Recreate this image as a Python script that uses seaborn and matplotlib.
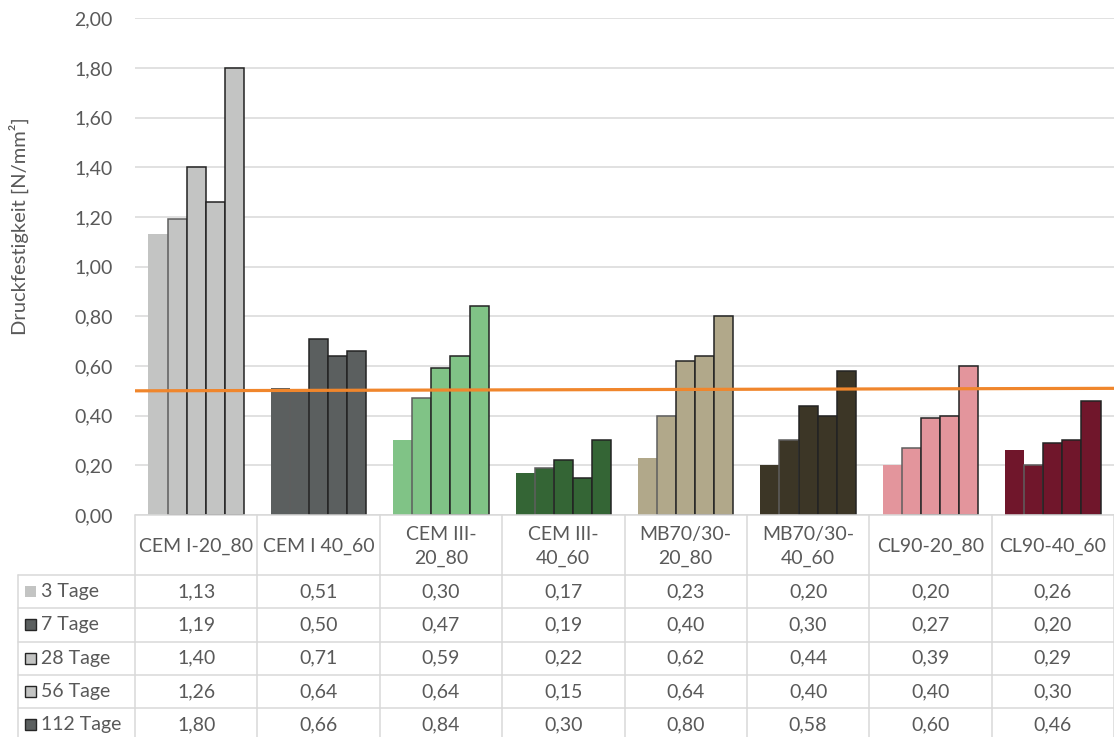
import matplotlib
matplotlib.use("Agg")
import matplotlib.pyplot as plt
import matplotlib.transforms as mtransforms
from matplotlib.patches import Rectangle
import pandas as pd
import seaborn as sns

# --- data -------------------------------------------------------------
categories = ["CEM I-20_80", "CEM I 40_60", "CEM III-20_80", "CEM III-40_60",
              "MB70/30-20_80", "MB70/30-40_60", "CL90-20_80", "CL90-40_60"]
header_labels = ["CEM I-20_80", "CEM I 40_60", "CEM III-\n20_80", "CEM III-\n40_60",
                 "MB70/30-\n20_80", "MB70/30-\n40_60", "CL90-20_80", "CL90-40_60"]
series = ["3 Tage", "7 Tage", "28 Tage", "56 Tage", "112 Tage"]

tage_3 = [1.13, 0.51, 0.30, 0.17, 0.23, 0.20, 0.20, 0.26]
tage_7 = [1.19, 0.50, 0.47, 0.19, 0.40, 0.30, 0.27, 0.20]
tage_28 = [1.40, 0.71, 0.59, 0.22, 0.62, 0.44, 0.39, 0.29]
tage_56 = [1.26, 0.64, 0.64, 0.15, 0.64, 0.40, 0.40, 0.30]
tage_112 = [1.80, 0.66, 0.84, 0.30, 0.80, 0.58, 0.60, 0.46]
values = [tage_3, tage_7, tage_28, tage_56, tage_112]

# required strength (left end, right end)
grenzwert = [0.50, 0.51]

y_ticks = [0.0, 0.2, 0.4, 0.6, 0.8, 1.0, 1.2, 1.4, 1.6, 1.8, 2.0]

# --- styling ----------------------------------------------------------
group_colors = ["#C3C4C3", "#5B5F5F", "#80C386", "#346535",
                "#B1A88A", "#3C3626", "#E3959C", "#70162B"]
series_edges = [None, "#5E5E5E", "#232323", "#232323", "#232323"]
legend_colors = ["#C3C4C3", "#5B5F5F", "#C3C4C3", "#C3C4C3", "#5B5F5F"]
text_color = "#595959"
grid_color = "#D9D9D9"
line_color = "#F0862C"

sns.set_style("white")
plt.rcParams["font.family"] = ["Lato", "DejaVu Sans"]
FS = 14

W, H = 1114, 737
fig = plt.figure(figsize=(W / 100, H / 100), dpi=100)

ax_left, ax_right, ax_top, ax_bottom = 135, 1114, 18.3, 515
ax = fig.add_axes([ax_left / W, 1 - ax_bottom / H,
                   (ax_right - ax_left) / W, (ax_bottom - ax_top) / H])

df = pd.DataFrame({
    "Mischung": [c for _ in series for c in categories],
    "Alter": [s for s in series for _ in categories],
    "Druckfestigkeit": [v for vals in values for v in vals],
})

sns.barplot(data=df, x="Mischung", y="Druckfestigkeit", hue="Alter",
            order=categories, hue_order=series, width=0.78, gap=0,
            saturation=1, errorbar=None, legend=False, ax=ax, zorder=2)

for s_idx, container in enumerate(ax.containers):
    for c_idx, bar in enumerate(container):
        bar.set_facecolor(group_colors[c_idx])
        edge = series_edges[s_idx]
        if edge is None:
            bar.set_edgecolor("none")
            bar.set_linewidth(0)
        else:
            bar.set_edgecolor(edge)
            bar.set_linewidth(1.1)

# horizontal required-strength line across the plot
blend = mtransforms.blended_transform_factory(ax.transAxes, ax.transData)
ax.plot([0, 1], grenzwert, transform=blend, color=line_color, lw=2.3,
        zorder=4, solid_capstyle="butt")

ax.set_xlim(-0.5, len(categories) - 0.5)
ax.set_ylim(0, 2.0)
ax.set_yticks(y_ticks)
ax.set_yticklabels([f"{t:.2f}".replace(".", ",") for t in y_ticks])
ax.tick_params(axis="y", length=0, pad=16, labelsize=FS, labelcolor=text_color)
ax.tick_params(axis="x", length=0, labelbottom=False)
ax.set_xlabel("")
ax.set_ylabel("")
ax.yaxis.grid(True, color=grid_color, lw=1.1, zorder=0)
ax.set_axisbelow(True)
for sp in ax.spines.values():
    sp.set_visible(False)

fig.text(19 / W, 1 - 226 / H, "Druckfestigkeit [N/mm²]", rotation=90,
         ha="center", va="center", fontsize=FS + 0.5, color=text_color)

# --- data table below the plot ---------------------------------------
tab = fig.add_axes([0, 0, 1, 1], zorder=5)
tab.set_xlim(0, W)
tab.set_ylim(H, 0)
tab.axis("off")
tab.patch.set_visible(False)

fig.canvas.draw()


def x_px(xdata):
    return ax.transData.transform((xdata, 0))[0]


col_edges = [x_px(i - 0.5) for i in range(len(categories) + 1)]
header_top, header_bottom = 515, 575
row_h = 33.3
rows_bottom = header_bottom + row_h * len(series)
legend_left = 18

lw_tab = 1.1
# horizontal rules
tab.plot([col_edges[0], col_edges[-1]], [header_top, header_top],
         color=grid_color, lw=lw_tab)
for k in range(len(series) + 1):
    y = header_bottom + k * row_h
    tab.plot([legend_left, col_edges[-1]], [y, y], color=grid_color, lw=lw_tab)
# vertical rules
for xe in col_edges:
    tab.plot([xe, xe], [header_top, rows_bottom], color=grid_color, lw=lw_tab)
tab.plot([legend_left, legend_left], [header_bottom, rows_bottom],
         color=grid_color, lw=lw_tab)

# header cells
for i, lab in enumerate(header_labels):
    cx = (col_edges[i] + col_edges[i + 1]) / 2
    tab.text(cx, (header_top + header_bottom) / 2 + 1.5, lab, ha="center",
             va="center", fontsize=FS, color=text_color, linespacing=1.45)

# series rows
for k, name in enumerate(series):
    cy = header_bottom + row_h * (k + 0.5)
    key_edge = "none" if series_edges[k] is None else "#262626"
    tab.add_patch(Rectangle((25, cy - 5.5), 11, 11, facecolor=legend_colors[k],
                            edgecolor=key_edge, lw=1.0))
    tab.text(41, cy, name, ha="left", va="center", fontsize=FS,
             color=text_color)
    for i, v in enumerate(values[k]):
        cx = (col_edges[i] + col_edges[i + 1]) / 2
        tab.text(cx, cy, f"{v:.2f}".replace(".", ","), ha="center",
                 va="center", fontsize=FS, color=text_color)

fig.savefig("out.png", dpi=100)
